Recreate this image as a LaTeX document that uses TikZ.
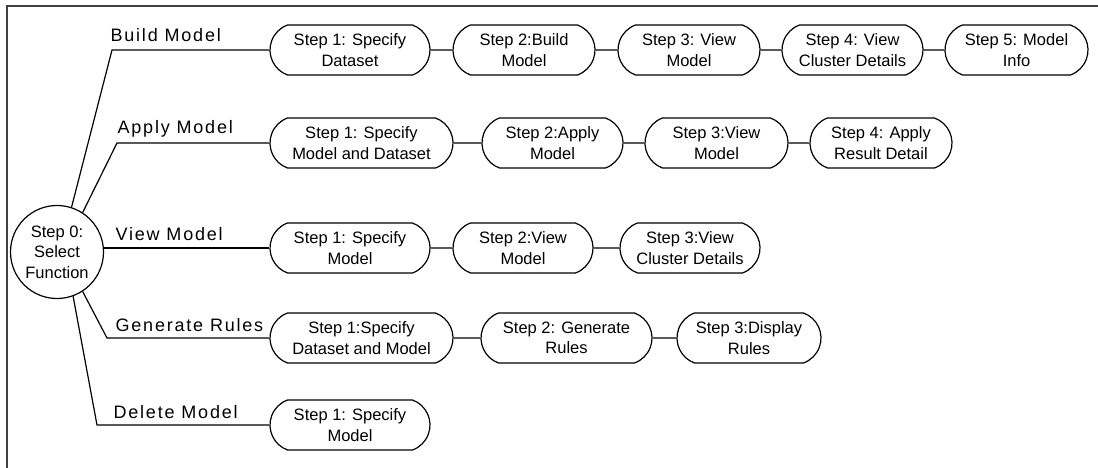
\documentclass[tikz,border=0pt]{standalone}
\usepackage{fontspec}
\setmainfont{Liberation Sans}
\newfontfamily\lblfont[LetterSpace=10]{Liberation Sans}
\usetikzlibrary{shapes.misc}

\begin{document}
\begin{tikzpicture}[x=1pt,y=-1pt,line width=1.2pt,
  every node/.style={font=\fontsize{16.5}{20.5}\selectfont},
  stepbox/.style={draw,rounded rectangle,rounded rectangle arc length=140,minimum height=50pt,inner sep=0pt,align=center},
  lbl/.style={anchor=base west,inner sep=0pt,font=\lblfont\fontsize{18}{20}\selectfont}]
\useasboundingbox (0,0) rectangle (1098,468);
\draw[line width=1.6pt,black!75] (7,468) -- (7,6) -- (1098,6);
% start node
\node[draw,circle,minimum size=93pt,inner sep=0pt,align=center] (s0) at (57,252) {Step 0:\\Select\\Function};
% elbows
\coordinate (bm) at (112,50);
\coordinate (am) at (117,143);
\coordinate (gm) at (107,338);
\coordinate (dm) at (97,425);
% branch labels
\node[lbl] (lb) at (110,42) {Build Model};
\node[lbl] (la) at (117,134) {Apply Model};
\node[lbl] (lv) at (115,240) {View Model};
\node[lbl] (lg) at (115,331) {Generate Rules};
\node[lbl] (ld) at (113,418) {Delete Model};
% build model
\node[stepbox,minimum width=160pt] (b1) at (350,50) {Step 1: Specify\\Dataset};
\node[stepbox,minimum width=142pt] (b2) at (524,50) {Step 2:Build\\Model};
\node[stepbox,minimum width=142pt] (b3) at (689,50) {Step 3: View\\Model};
\node[stepbox,minimum width=141pt] (b4) at (852.5,50) {Step 4: View\\Cluster Details};
\node[stepbox,minimum width=143pt] (b5) at (1016.5,50) {Step 5: Model\\Info};
% apply model
\node[stepbox,minimum width=183pt] (a1) at (361.5,143) {Step 1: Specify\\Model and Dataset};
\node[stepbox,minimum width=141pt] (a2) at (552.5,143) {Step 2:Apply\\Model};
\node[stepbox,minimum width=143pt] (a3) at (716.5,143) {Step 3:View\\Model};
\node[stepbox,minimum width=142pt] (a4) at (881,143) {Step 4: Apply\\Result Detail};
% view model
\node[stepbox,minimum width=160pt] (v1) at (350,248) {Step 1: Specify\\Model};
\node[stepbox,minimum width=140pt] (v2) at (523,248) {Step 2:View\\Model};
\node[stepbox,minimum width=140pt] (v3) at (690,248) {Step 3:View\\Cluster Details};
% generate rules
\node[stepbox,minimum width=183pt] (g1) at (361.5,338) {Step 1:Specify\\Dataset and Model};
\node[stepbox,minimum width=171pt] (g2) at (566.5,338) {Step 2: Generate\\Rules};
\node[stepbox,minimum width=144pt] (g3) at (749,338) {Step 3:Display\\Rules};
% delete model
\node[stepbox,minimum width=160pt] (d1) at (350,425) {Step 1: Specify\\Model};
% branches
\draw (s0.72) -- (bm) -- (b1);
\draw (s0.57) -- (am) -- (a1);
\draw (s0.east |- v1) -- (v1);
\draw (s0.-57) -- (gm) -- (g1);
\draw (s0.-70) -- (dm) -- (d1);
\foreach \a/\b in {b1/b2,b2/b3,b3/b4,b4/b5,a1/a2,a2/a3,a3/a4,v1/v2,v2/v3,g1/g2,g2/g3}
  \draw (\a) -- (\b);
\end{tikzpicture}
\end{document}
